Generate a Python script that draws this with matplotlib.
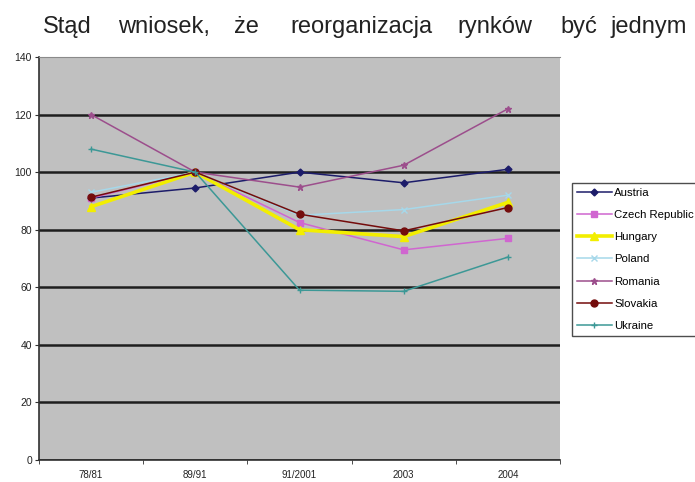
import numpy as np
import matplotlib
matplotlib.use('Agg')
import matplotlib.pyplot as plt

plt.rcParams['font.family'] = ['Liberation Sans', 'DejaVu Sans']

periods = ['78/81', '89/91', '91/2001', '2003', '2004']

austria = [91, 94.5, 100, 96.3, 101]
czech = [91, 100, 82.5, 73, 77]
hungary = [88, 100, 80, 77.6, 89.5]
poland = [93, 100, 85, 87, 92]
romania = [120, 100, 94.8, 102.4, 122]
slovakia = [91.3, 100, 85.4, 79.6, 87.7]
ukraine = [108, 100, 59, 58.6, 70.5]

# page text above the chart, word by word (justified line)
header_words = ['Stąd', 'wniosek,', 'że', 'reorganizacja', 'rynków', 'być', 'jednym']
header_x = [43, 118, 234, 290, 457, 560, 610]

series = [
    ('Austria', austria, '#1c1c6a', 'D', 3.5),
    ('Czech Republic', czech, '#d066d0', 's', 4.5),
    ('Hungary', hungary, '#f2ee00', '^', 6),
    ('Poland', poland, '#a6d8ea', 'x', 4),
    ('Romania', romania, '#9c4e8c', '*', 5),
    ('Slovakia', slovakia, '#740c0c', 'o', 5),
    ('Ukraine', ukraine, '#3c9896', '+', 5),
]

W, H = 695, 482
fig = plt.figure(figsize=(W / 100, H / 100), dpi=100)

for word, px in zip(header_words, header_x):
    fig.text(px / W, 1 - 33 / H, word, fontsize=17, color='#222222',
             ha='left', va='baseline')

ax = fig.add_axes([39 / W, 1 - 460 / H, 521 / W, 403 / H])
ax.set_facecolor('#c0c0c0')

x = np.arange(len(periods))
for name, vals, col, mk, ms in series:
    lw = 2.6 if name == 'Hungary' else 1.1
    ax.plot(x, vals, color=col, marker=mk, markersize=ms, linewidth=lw, label=name)

ax.set_ylim(0, 140)
ax.set_xlim(-0.5, 4.5)
ax.set_yticks(range(0, 141, 20))
ax.set_xticks(x)
ax.set_xticklabels(periods)
ax.set_xticks(np.arange(-0.5, 4.6, 1.0), minor=True)
ax.tick_params(axis='x', which='major', length=0, labelsize=7, pad=7,
               labelcolor='#222222')
ax.tick_params(axis='x', which='minor', length=3, direction='out', color='#303030')
ax.tick_params(axis='y', labelsize=7.5, length=3, pad=2, color='#303030',
               labelcolor='#222222')
ax.grid(axis='y', color='#1e1e1e', linewidth=1.8)
ax.set_axisbelow(True)
# no heavy line on the top (140) edge, only a thin plot border
ax.yaxis.get_gridlines()[-1].set_visible(False)

ax.spines['right'].set_visible(False)
ax.spines['top'].set_color('#8a8a8a')
ax.spines['top'].set_linewidth(0.8)
ax.spines['left'].set_color('#303030')
ax.spines['bottom'].set_color('#303030')
ax.spines['left'].set_linewidth(1.2)
ax.spines['bottom'].set_linewidth(1.2)

leg = fig.legend(loc='upper left', bbox_to_anchor=(572 / W, 1 - 183 / H),
                 bbox_transform=fig.transFigure, borderaxespad=0,
                 fontsize=8.2, frameon=True, fancybox=False, edgecolor='#202020',
                 handlelength=3.1, handletextpad=0.2, labelspacing=1.08,
                 borderpad=0.4)
leg.get_frame().set_linewidth(1.0)

plt.savefig('out.png', dpi=100)
